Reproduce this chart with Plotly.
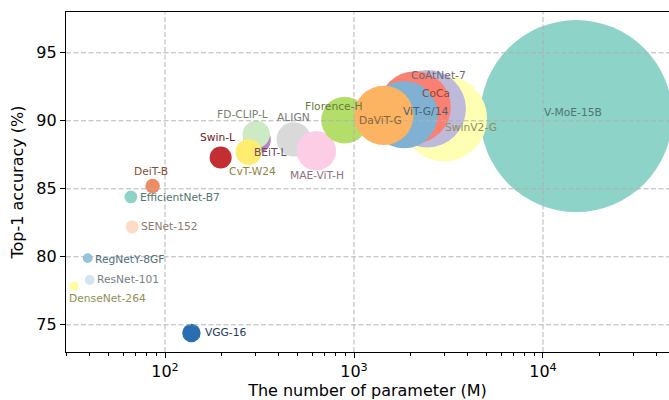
import numpy as np
import plotly.graph_objects as go

# Models in drawing order (later points sit on top of earlier ones)
models = ["V-MoE-15B", "SwinV2-G", "CoAtNet-7", "CoCa", "ViT-G/14", "BEiT-L",
          "FD-CLIP-L", "CvT-W24", "ALIGN", "MAE-ViT-H", "Florence-H", "DaViT-G",
          "Swin-L", "DeiT-B", "EfficientNet-B7", "SENet-152", "RegNetY-8GF",
          "ResNet-101", "DenseNet-264", "VGG-16"]
params_m = [15000, 3000, 2440, 2100, 1843, 307,
            304, 277, 480, 632, 893, 1437,
            197, 86, 66, 67, 39,
            40, 33, 138]
top1_acc = [90.35, 90.17, 90.88, 91.0, 90.45, 88.6,
            89.0, 87.7, 88.64, 87.8, 90.05, 90.4,
            87.3, 85.2, 84.4, 82.2, 79.9,
            78.3, 77.85, 74.4]

x_tick_vals = [100, 1000, 10000]
x_tick_text = ["10<sup>2</sup>", "10<sup>3</sup>", "10<sup>4</sup>"]
y_tick_vals = [75, 80, 85, 90, 95]

# Styling
colors = ["#8dd3c7", "#ffffb3", "#bebada", "#fb8072", "#80b1d3", "#bc80bd",
          "#ccebc5", "#ffed6f", "#d9d9d9", "#fccde5", "#b3de69", "#fdb462",
          "#c22e32", "#ef8a62", "#8dd3c7", "#fddbc7", "#92c5de",
          "#d1e5f0", "#ffff99", "#2a6db0"]

# label placement: (anchor, xshift px, yshift px)
label_place = {
    "V-MoE-15B": ("center", -3, 4),
    "SwinV2-G": ("left", 0, -9),
    "CoAtNet-7": ("center", 11, 33),
    "CoCa": ("center", 21, 14),
    "ViT-G/14": ("center", 22, 3),
    "BEiT-L": ("left", -4, -12.5),
    "FD-CLIP-L": ("center", -14, 19.5),
    "CvT-W24": ("center", 4, -19.7),
    "ALIGN": ("center", 0, 22),
    "MAE-ViT-H": ("center", 1, -24.5),
    "Florence-H": ("center", -11, 13.3),
    "DaViT-G": ("center", -3, -4.7),
    "Swin-L": ("center", -3, 19.7),
    "DeiT-B": ("center", -2, 14.3),
    "EfficientNet-B7": ("left", 8, -1),
    "SENet-152": ("left", 8, 0),
    "RegNetY-8GF": ("left", 6, -1),
    "ResNet-101": ("left", 6, 0),
    "DenseNet-264": ("left", -5.7, -12.4),
    "VGG-16": ("left", 12.6, 0),
}


def darker(hex_color, f=0.56):
    h = hex_color.lstrip("#")
    r, g, b = (int(h[i:i + 2], 16) for i in (0, 2, 4))
    return f"rgb({int(r * f)},{int(g * f)},{int(b * f)})"


FONT = "DejaVu Sans"
max_radius_px = 96
sizeref = max(params_m) / (2 * max_radius_px ** 2)

fig = go.Figure()
fig.add_trace(go.Scatter(
    x=params_m, y=top1_acc, mode="markers",
    marker=dict(size=params_m, sizemode="area", sizeref=sizeref,
                color=colors, opacity=1, line=dict(width=0)),
    hoverinfo="text", text=models, showlegend=False,
))

annotations = []
for name, p, a, c in zip(models, params_m, top1_acc, colors):
    anchor, dx, dy = label_place[name]
    annotations.append(dict(
        x=np.log10(p), y=a, xref="x", yref="y", text=name, showarrow=False,
        xanchor=anchor, yanchor="middle", xshift=dx, yshift=dy, borderpad=0,
        font=dict(family=FONT, size=10.7, color=darker(c)),
    ))

# dashed grid drawn above the bubbles
grid_style = dict(color="rgba(176,176,176,0.95)", width=1, dash="5px,2.5px")
shapes = []
for v in x_tick_vals:
    shapes.append(dict(type="line", xref="x", yref="paper", x0=v, x1=v, y0=0, y1=1,
                       line=grid_style, layer="above"))
for v in y_tick_vals:
    shapes.append(dict(type="line", xref="paper", yref="y", x0=0, x1=1, y0=v, y1=v,
                       line=grid_style, layer="above"))

minor_vals = [m * 10 ** d for d in range(1, 5) for m in range(2, 10)]

fig.update_layout(
    width=669, height=400,
    margin=dict(l=66, r=0, t=12, b=48),
    plot_bgcolor="white", paper_bgcolor="white",
    font=dict(family=FONT, size=16, color="black"),
    annotations=annotations, shapes=shapes,
    xaxis=dict(
        type="log", range=[1.4762, 4.6667],
        tickmode="array", tickvals=x_tick_vals, ticktext=x_tick_text,
        ticks="outside", ticklen=5, tickwidth=1.2, tickcolor="black",
        showline=True, linecolor="black", linewidth=1.3, mirror=True,
        showgrid=False, zeroline=False,
        minor=dict(tickmode="array", tickvals=minor_vals, ticks="outside",
                   ticklen=3, tickwidth=1, tickcolor="black", showgrid=False),
        title=dict(text="The number of parameter (M)", font=dict(size=16), standoff=6),
        tickfont=dict(size=16),
    ),
    yaxis=dict(
        range=[73, 98], tickmode="array", tickvals=y_tick_vals,
        ticks="outside", ticklen=5, tickwidth=1.2, tickcolor="black",
        showline=True, linecolor="black", linewidth=1.3, mirror=False,
        showgrid=False, zeroline=False,
        title=dict(text="Top-1 accuracy (%)", font=dict(size=16), standoff=8),
        tickfont=dict(size=16),
    ),
)

fig.write_html("out.html")
